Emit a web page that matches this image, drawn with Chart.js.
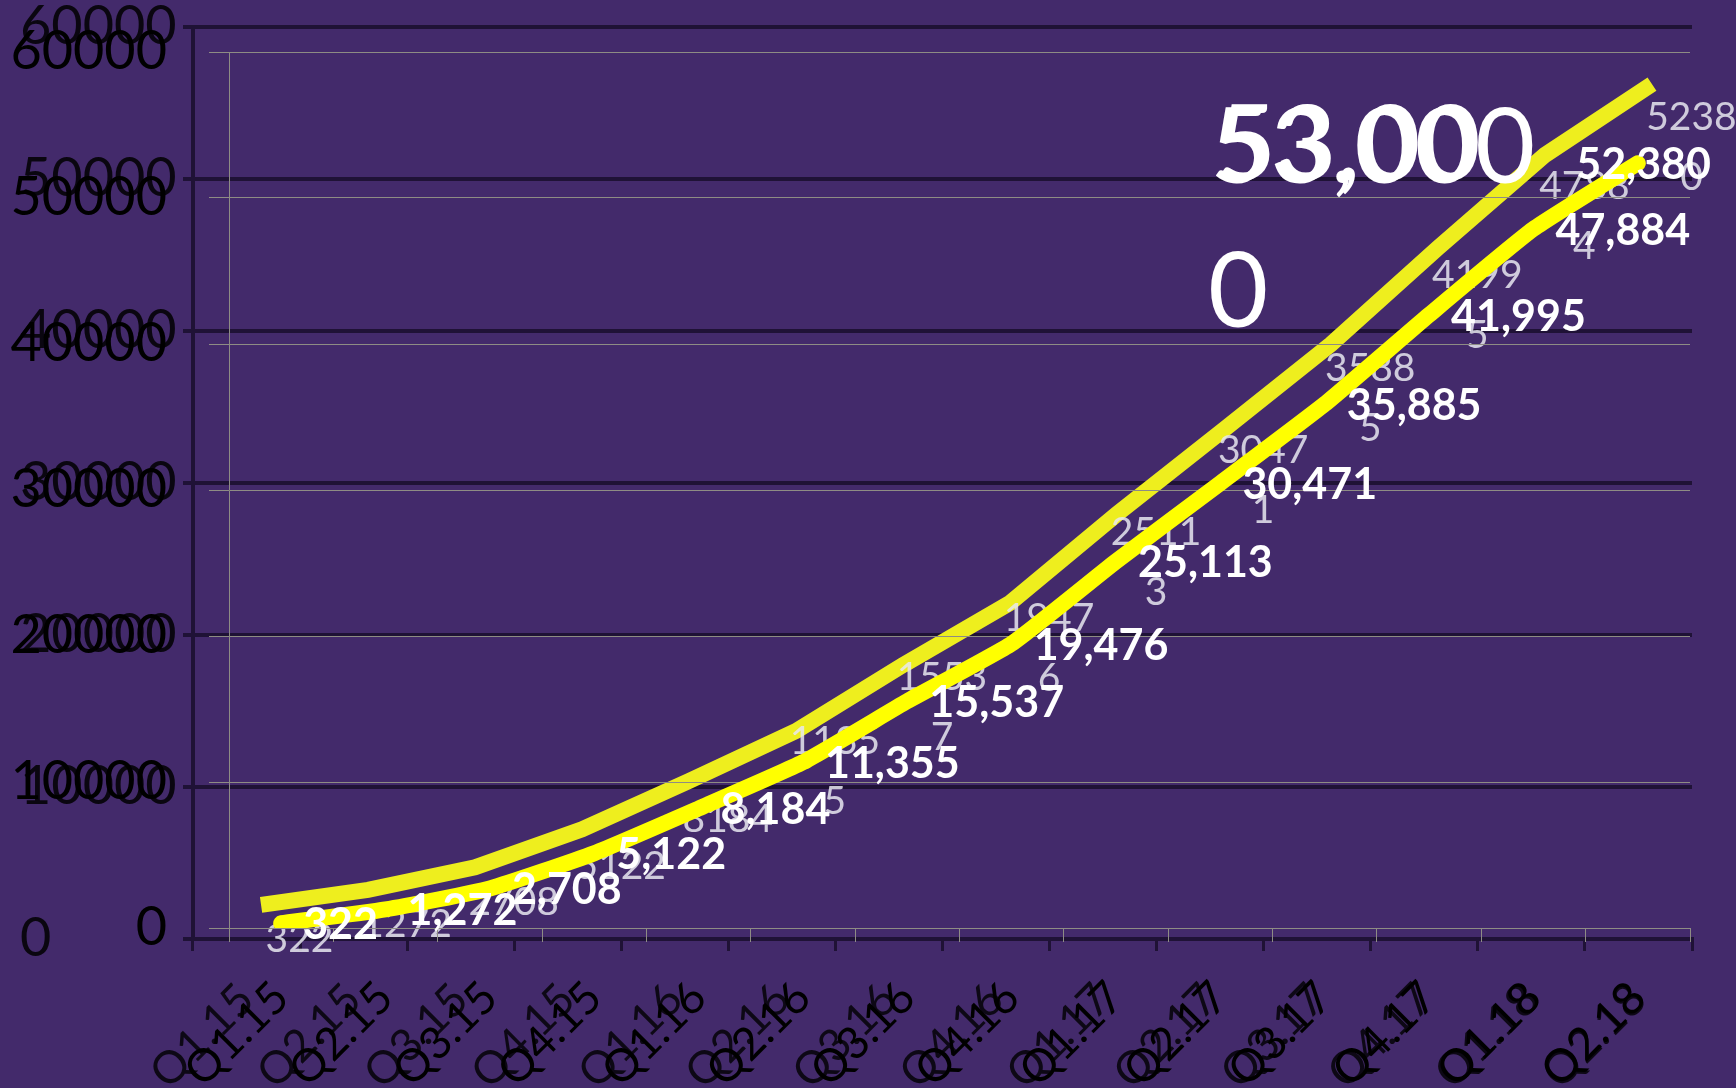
<!DOCTYPE html>
<html>
<head>
<meta charset="utf-8">
<script src="https://cdn.jsdelivr.net/npm/chart.js@4.4.0/dist/chart.umd.min.js"></script>
<style>
  html, body { margin: 0; padding: 0; background: #432a6b; }
  #wrap { position: relative; width: 1736px; height: 1088px; overflow: hidden; }
  #wrap canvas { position: absolute; left: 0; top: 0; }
</style>
</head>
<body>
<div id="wrap">
  <canvas id="back" width="1736" height="1088"></canvas>
  <canvas id="front" width="1736" height="1088"></canvas>
</div>
<script>
// Quarters on the x axis
const quarters = ['Q1.15','Q2.15','Q3.15','Q4.15','Q1.16','Q2.16','Q3.16','Q4.16',
                  'Q1.17','Q2.17','Q3.17','Q4.17','Q1.18','Q2.18'];

// Cumulative totals per quarter
const totals = [322, 1272, 2708, 5122, 8184, 11355, 15537, 19476,
                25113, 30471, 35885, 41995, 47884, 52380];

// Y axis tick labels
const yTicks = [0, 10000, 20000, 30000, 40000, 50000, 60000];

// Target text in the top right
const targetText = '53,000';

Chart.defaults.font.family = 'Lato, "Open Sans", sans-serif';
Chart.defaults.animation = false;

const W = 1736, H = 1088;

// no extra padding from the tick labels, keep the plot box where it is
function noPad(s) {
  s.paddingTop = 0; s.paddingBottom = 0; s.paddingLeft = 0; s.paddingRight = 0;
}

// Faint labels of the back chart (numbers without commas, wrapped after 4 digits)
const ghostLabels = {
  id: 'ghostLabels',
  afterDatasetsDraw(chart) {
    const ctx = chart.ctx;
    const x = chart.scales.x, y = chart.scales.y;
    ctx.save();
    ctx.font = '39px Lato';
    ctx.fillStyle = 'rgba(232,232,240,0.85)';
    ctx.textAlign = 'center';
    ctx.textBaseline = 'middle';
    totals.forEach((v, i) => {
      const px = x.getPixelForValue(i) + 53;
      const py = y.getPixelForValue(v) + 5;
      const s = String(v);
      if (s.length > 4) {
        ctx.fillText(s.slice(0, 4), px, py - 30);
        ctx.fillText(s.slice(4), px, py + 30);
      } else {
        ctx.fillText(s, px, py);
      }
    });
    ctx.restore();
  }
};

// Bold value labels on the front line
const valueLabels = {
  id: 'valueLabels',
  afterDatasetsDraw(chart) {
    const ctx = chart.ctx;
    const meta = chart.getDatasetMeta(0);
    ctx.save();
    ctx.font = 'bold 43px Lato';
    ctx.fillStyle = '#ffffff';
    ctx.textAlign = 'left';
    ctx.textBaseline = 'middle';
    meta.data.forEach((pt, i) => {
      const txt = totals[i].toLocaleString('en-US');
      const w = ctx.measureText(txt).width;
      let lx = pt.x + 22;
      if (lx + w > chart.width - 25) lx = chart.width - 25 - w;
      ctx.fillText(txt, lx, pt.y + 2);
    });
    ctx.restore();
  }
};

// Big target number (drawn twice, once wrapped, like the original)
const targetLabel = {
  id: 'targetLabel',
  afterDraw(chart) {
    const ctx = chart.ctx;
    ctx.save();
    ctx.font = '104px Lato';
    ctx.fillStyle = '#ffffff';
    ctx.textAlign = 'left';
    ctx.textBaseline = 'alphabetic';
    ctx.fillText(targetText, 1210, 183);
    ctx.fillText(targetText.slice(0, -1), 1216, 180);
    ctx.fillText(targetText.slice(-1), 1208, 327);
    ctx.restore();
  }
};

const darkGrid = '#1f1236';
const lightGrid = '#8e8c84';

// Back chart: dark grid, labels aligned left, the upper yellow line
new Chart(document.getElementById('back'), {
  type: 'line',
  data: {
    labels: quarters,
    datasets: [{
      data: totals.map((v, i) => ({ x: i, y: v })),
      xAxisID: 'xU',
      yAxisID: 'yU',
      borderColor: '#eeee1e',
      borderWidth: 16,
      borderCapStyle: 'butt',
      pointRadius: 0,
      tension: 0
    }]
  },
  options: {
    responsive: false,
    animation: false,
    layout: { autoPadding: false, padding: { left: 20, right: 44, top: 27, bottom: 0 } },
    plugins: { legend: { display: false }, tooltip: { enabled: false } },
    scales: {
      x: {
        type: 'category',
        offset: true,
        grid: { offset: true, drawOnChartArea: false, color: darkGrid, lineWidth: 3, tickLength: 12 },
        border: { color: darkGrid, width: 4 },
        ticks: { color: 'rgba(0,0,0,0.8)', font: { size: 45 }, minRotation: 45, maxRotation: 45, padding: 22, autoSkip: false },
        afterFit: s => { s.height = H - 939; noPad(s); }
      },
      y: {
        min: 0, max: 60000,
        afterBuildTicks: s => { s.ticks = yTicks.map(v => ({ value: v })); },
        grid: { color: darkGrid, lineWidth: 4, tickLength: 10 },
        border: { color: darkGrid, width: 4 },
        ticks: { color: 'rgba(0,0,0,0.85)', font: { size: 54 }, crossAlign: 'far', callback: v => String(v) },
        afterFit: s => { s.width = 173; noPad(s); }
      },
      xU: { type: 'linear', display: false, min: -0.636, max: 13.374 },
      yU: { type: 'linear', display: false, min: -1840, max: 56000 }
    }
  },
  plugins: [ghostLabels]
});

// Front chart: thin light grid, right aligned labels, the main yellow line
new Chart(document.getElementById('front'), {
  type: 'line',
  data: {
    labels: quarters,
    datasets: [{
      data: totals,
      borderColor: '#ffff00',
      borderWidth: 16,
      borderCapStyle: 'round',
      borderJoinStyle: 'round',
      pointRadius: 0,
      tension: 0.15
    }]
  },
  options: {
    responsive: false,
    animation: false,
    layout: { autoPadding: false, padding: { left: 0, right: 46, top: 52, bottom: 0 } },
    plugins: { legend: { display: false }, tooltip: { enabled: false } },
    scales: {
      x: {
        type: 'category',
        offset: true,
        grid: { offset: true, drawOnChartArea: false, color: lightGrid, lineWidth: 1, tickLength: 14 },
        border: { color: lightGrid, width: 1 },
        ticks: { color: '#000000', font: { size: 45 }, minRotation: 45, maxRotation: 45, padding: 29, autoSkip: false },
        afterFit: s => { s.height = H - 928; noPad(s); }
      },
      y: {
        min: 0, max: 60000,
        afterBuildTicks: s => { s.ticks = yTicks.map(v => ({ value: v })); },
        grid: { color: lightGrid, lineWidth: 1, tickLength: 20 },
        border: { color: lightGrid, width: 1 },
        ticks: { color: '#000000', font: { size: 54 }, padding: 42, crossAlign: 'near', callback: v => String(v) },
        afterFit: s => { s.width = 229; noPad(s); }
      }
    }
  },
  plugins: [valueLabels, targetLabel]
});
</script>
</body>
</html>
